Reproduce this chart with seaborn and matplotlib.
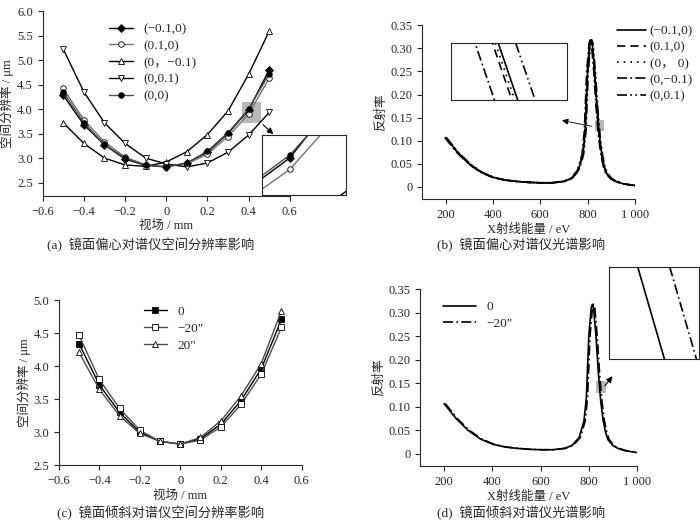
import matplotlib
matplotlib.use("Agg")
import matplotlib.pyplot as plt
import numpy as np
import pandas as pd
import seaborn as sns
from matplotlib.patches import Rectangle

# ── data ─────────────────────────────────────────────────────────────────────
field = [-0.5, -0.4, -0.3, -0.2, -0.1, 0.0, 0.1, 0.2, 0.3, 0.4, 0.5]

decenter_labels = ["(\u22120.1,0)", "(0.1,0)", "(0\uff0c\u22120.1)", "(0,0.1)", "(0,0)"]
res_m01_0 = [4.28, 3.68, 3.27, 2.98, 2.85, 2.82, 2.90, 3.12, 3.50, 3.98, 4.80]
res_p01_0 = [4.42, 3.78, 3.33, 3.02, 2.86, 2.83, 2.88, 3.08, 3.44, 3.90, 4.63]
res_0_m01 = [3.72, 3.30, 3.00, 2.86, 2.83, 2.92, 3.13, 3.48, 3.96, 4.71, 5.59]
res_0_p01 = [5.22, 4.35, 3.72, 3.30, 3.00, 2.88, 2.82, 2.90, 3.12, 3.47, 3.93]
res_0_0 = [4.35, 3.72, 3.28, 3.00, 2.86, 2.82, 2.90, 3.14, 3.52, 4.00, 4.72]

tilt_labels = ["0", "\u221220\"", "20\""]
tilt_0 = [4.34, 3.72, 3.30, 3.00, 2.86, 2.82, 2.90, 3.12, 3.48, 3.96, 4.71]
tilt_m20 = [4.47, 3.80, 3.36, 3.03, 2.86, 2.82, 2.88, 3.08, 3.42, 3.88, 4.59]
tilt_p20 = [4.21, 3.65, 3.25, 2.98, 2.86, 2.82, 2.92, 3.17, 3.55, 4.04, 4.84]

energy = [200, 250, 300, 350, 400, 450, 500, 550, 600, 650, 700, 730, 760,
          780, 790, 800, 810, 815, 820, 830, 840, 850, 860, 870, 880, 900,
          920, 950, 1000]
refl = [0.107, 0.075, 0.050, 0.032, 0.021, 0.015, 0.012, 0.010, 0.009,
        0.009, 0.012, 0.018, 0.035, 0.070, 0.120, 0.250, 0.310, 0.318,
        0.310, 0.250, 0.170, 0.110, 0.070, 0.045, 0.030, 0.018, 0.012,
        0.007, 0.003]
# small energy shifts (eV) of each curve
spec_labels_b = ["(\u22120.1,0)", "(0.1,0)", "(0\uff0c 0)", "(0,\u22120.1)", "(0,0.1)"]
spec_shift_b = [0.0, -1.0, -0.5, -4.0, 3.0]
spec_labels_d = ["0", "\u221220\""]
spec_shift_d = [0.0, 5.0]

# ── style ────────────────────────────────────────────────────────────────────
sns.set_style("ticks")
plt.rcParams["font.family"] = ["Liberation Serif", "Noto Sans CJK SC"]
plt.rcParams["font.size"] = 9
plt.rcParams["axes.linewidth"] = 0.8
plt.rcParams["axes.labelpad"] = 2

fig = plt.figure(figsize=(7, 5.25), dpi=100)

ax_a = fig.add_axes([0.061, 0.627, 0.353, 0.352])
ax_b = fig.add_axes([0.603, 0.621, 0.304, 0.331])
ax_c = fig.add_axes([0.084, 0.114, 0.347, 0.314])
ax_d = fig.add_axes([0.600, 0.112, 0.310, 0.337])


def res_lines(ax, series, labels, styles, legend=True):
    for ys, lab, (mk, fc, col) in zip(series, labels, styles):
        sns.lineplot(x=field, y=ys, ax=ax, color=col, lw=1.0, marker=mk,
                     markersize=4, markerfacecolor=fc, markeredgecolor="black",
                     markeredgewidth=0.6, label=lab if legend else None)


# (a) decentering → spatial resolution
styles_a = [("D", "black", "black"), ("o", "white", "0.45"),
            ("^", "white", "black"), ("v", "white", "black"),
            ("o", "black", "0.3")]
series_a = [res_m01_0, res_p01_0, res_0_m01, res_0_p01, res_0_0]
res_lines(ax_a, series_a, decenter_labels, styles_a)
ax_a.set_xlim(-0.6, 0.6)
ax_a.set_ylim(2.23, 6.0)
ax_a.set_xticks([-0.6, -0.4, -0.2, 0, 0.2, 0.4, 0.6])
ax_a.set_xticklabels(["\u22120.6", "\u22120.4", "\u22120.2", "0", "0.2", "0.4", "0.6"])
ax_a.set_yticks(np.arange(2.5, 6.01, 0.5))
ax_a.set_xlabel("视场 / mm")
ax_a.set_ylabel("空间分辨率 / μm")
ax_a.legend(loc="upper left", bbox_to_anchor=(0.22, 1.0), frameon=False,
            handlelength=1.8, labelspacing=0.35, fontsize=9.5)
ax_a.add_patch(Rectangle((0.37, 3.72), 0.09, 0.42, color="0.6", alpha=0.7, lw=0))
ins_a = fig.add_axes([0.374, 0.628, 0.12, 0.115])
res_lines(ins_a, series_a, decenter_labels, styles_a, legend=False)
ins_a.set_xlim(0.37, 0.46)
ins_a.set_ylim(3.72, 4.14)
ins_a.set_xticks([]); ins_a.set_yticks([])
ax_a.annotate("", xy=(0.53, 3.45), xytext=(0.46, 3.72),
              arrowprops=dict(arrowstyle="-|>", color="black", lw=0.8),
              annotation_clip=False)
sns.despine(ax=ax_a)


def spec_lines(ax, shifts, labels, styles, legend=True):
    for sh, lab, ls in zip(shifts, labels, styles):
        sns.lineplot(x=[e + sh for e in energy], y=refl, ax=ax, color="black",
                     lw=1.2, linestyle=ls, label=lab if legend else None, sort=False)


def spec_axes(ax):
    ax.set_xlim(100, 1000)
    ax.set_ylim(-0.026, 0.35)
    ax.set_xticks([200, 400, 600, 800, 1000])
    ax.set_xticklabels(["200", "400", "600", "800", "1 000"])
    ax.set_yticks(np.arange(0, 0.351, 0.05))
    ax.set_yticklabels(["0"] + [f"{v:.2f}" for v in np.arange(0.05, 0.351, 0.05)])
    ax.set_xlabel("X射线能量 / eV")
    ax.set_ylabel("反射率")
    sns.despine(ax=ax)


# (b) decentering → spectrum
styles_b = ["-", (0, (5, 3)), (0, (1, 3)), (0, (6, 2, 1, 2)), (0, (6, 2, 1, 2, 1, 2))]
spec_lines(ax_b, spec_shift_b, spec_labels_b, styles_b)
spec_axes(ax_b)
ax_b.legend(loc="upper left", bbox_to_anchor=(0.89, 1.03), frameon=False,
            handlelength=2.2, handletextpad=0.3, labelspacing=0.3, fontsize=9.5,
            borderaxespad=0)
ax_b.add_patch(Rectangle((830, 0.12), 40, 0.025, color="0.6", alpha=0.7, lw=0))
ax_b.annotate("", xy=(680, 0.145), xytext=(830, 0.13),
              arrowprops=dict(arrowstyle="-|>", color="black", lw=0.6))
ins_b = fig.add_axes([0.644, 0.810, 0.166, 0.108])
spec_lines(ins_b, spec_shift_b, spec_labels_b, styles_b, legend=False)
ins_b.set_xlim(836, 856)
ins_b.set_ylim(0.125, 0.145)
ins_b.set_xticks([]); ins_b.set_yticks([])

# (c) tilt → spatial resolution
styles_c = [("s", "black", "black"), ("s", "white", "0.3"), ("^", "white", "0.3")]
res_lines(ax_c, [tilt_0, tilt_m20, tilt_p20], tilt_labels, styles_c)
ax_c.set_xlim(-0.6, 0.6)
ax_c.set_ylim(2.5, 5.0)
ax_c.set_xticks([-0.6, -0.4, -0.2, 0, 0.2, 0.4, 0.6])
ax_c.set_xticklabels(["\u22120.6", "\u22120.4", "\u22120.2", "0", "0.2", "0.4", "0.6"])
ax_c.set_yticks(np.arange(2.5, 5.01, 0.5))
ax_c.set_xlabel("视场 / mm")
ax_c.set_ylabel("空间分辨率 / μm")
ax_c.legend(loc="upper left", bbox_to_anchor=(0.3, 1.04), frameon=False,
            handlelength=1.8, labelspacing=0.35, fontsize=9.5)
sns.despine(ax=ax_c)

# (d) tilt → spectrum
styles_d = ["-", (0, (6, 2, 1, 2))]
spec_lines(ax_d, spec_shift_d, spec_labels_d, styles_d)
spec_axes(ax_d)
ax_d.legend(loc="upper left", bbox_to_anchor=(0.05, 1.0), frameon=False,
            handlelength=2.5, labelspacing=0.3, fontsize=9.5)
ax_d.add_patch(Rectangle((830, 0.13), 40, 0.025, color="0.6", alpha=0.7, lw=0))
ax_d.annotate("", xy=(905, 0.17), xytext=(860, 0.14),
              arrowprops=dict(arrowstyle="-|>", color="black", lw=0.8))
ins_d = fig.add_axes([0.870, 0.316, 0.128, 0.175])
spec_lines(ins_d, spec_shift_d, spec_labels_d, styles_d, legend=False)
ins_d.set_xlim(838, 852)
ins_d.set_ylim(0.13, 0.155)
ins_d.set_xticks([]); ins_d.set_yticks([])

# captions
fig.text(0.215, 0.525, "(a)  镜面偏心对谱仪空间分辨率影响", ha="center", fontsize=9.5)
fig.text(0.745, 0.525, "(b)  镜面偏心对谱仪光谱影响", ha="center", fontsize=9.5)
fig.text(0.230, 0.015, "(c)  镜面倾斜对谱仪空间分辨率影响", ha="center", fontsize=9.5)
fig.text(0.745, 0.015, "(d)  镜面倾斜对谱仪光谱影响", ha="center", fontsize=9.5)

fig.savefig("out.png", dpi=100)
